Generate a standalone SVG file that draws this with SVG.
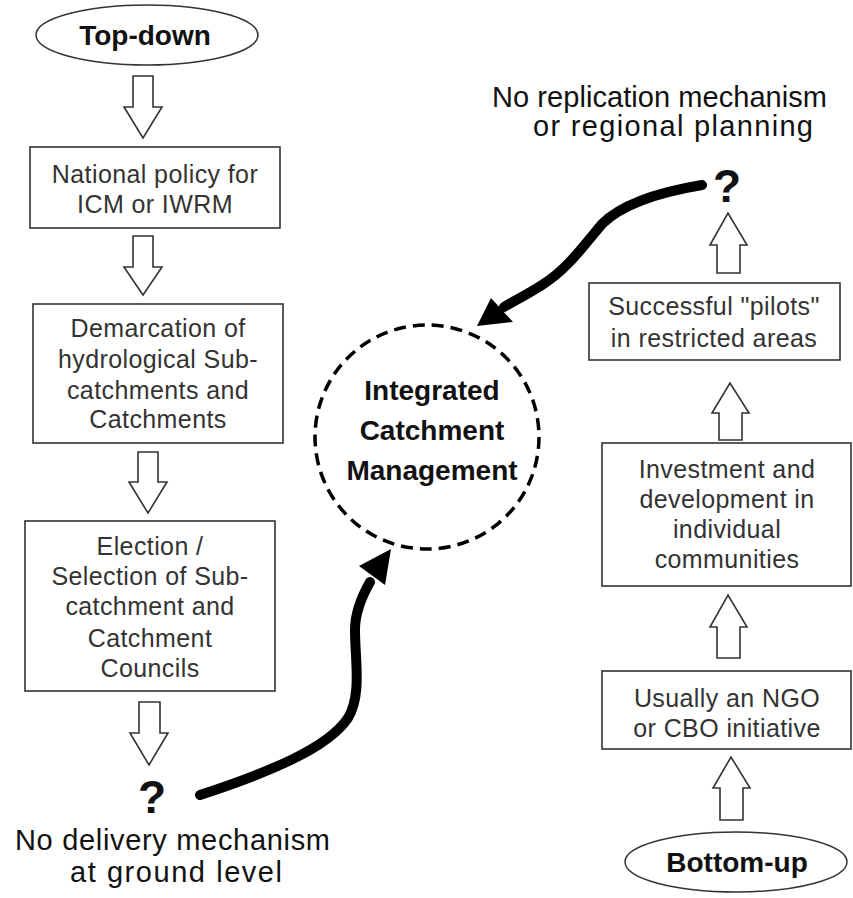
<svg xmlns="http://www.w3.org/2000/svg" width="853" height="898" viewBox="0 0 853 898">
  <style>
    .box { fill: #fff; stroke: #333; stroke-width: 1.6; }
    .oval { fill: #fff; stroke: #333; stroke-width: 1.5; }
    .btxt { font-family: "Liberation Sans", Arial, sans-serif; font-size: 25px; letter-spacing: 0.4px; fill: #333; text-anchor: middle; }
    .title { font-family: "Liberation Sans", Arial, sans-serif; font-size: 28px; font-weight: bold; fill: #111; text-anchor: middle; }
    .note { font-family: "Liberation Sans", Arial, sans-serif; font-size: 29px; fill: #111; }
    .q { font-family: "Liberation Sans", Arial, sans-serif; font-size: 46px; font-weight: bold; fill: #111; text-anchor: middle; }
    .hollow { fill: #fff; stroke: #333; stroke-width: 1.6; stroke-linejoin: miter; }
    .flow { fill: none; stroke: #000; stroke-width: 10; stroke-linecap: round; }
    .head { fill: #000; }
  </style>
  <rect width="853" height="898" fill="#fff"/>

  <!-- Top-down chain -->
  <g id="top-down">
    <ellipse class="oval" cx="147" cy="35" rx="111" ry="30"/>
    <text class="title" x="145" y="45">Top-down</text>
  </g>
  <g id="national-policy">
    <rect class="box" x="30" y="147" width="250" height="81"/>
    <text class="btxt" x="155" y="183">National policy for</text>
    <text class="btxt" x="155" y="213">ICM or IWRM</text>
  </g>
  <g id="demarcation">
    <rect class="box" x="33" y="304" width="250" height="139"/>
    <text class="btxt" x="158" y="337">Demarcation of</text>
    <text class="btxt" x="158" y="368">hydrological Sub-</text>
    <text class="btxt" x="158" y="399">catchments and</text>
    <text class="btxt" x="158" y="428">Catchments</text>
  </g>
  <g id="election">
    <rect class="box" x="25" y="521" width="250" height="170"/>
    <text class="btxt" x="150" y="555">Election /</text>
    <text class="btxt" x="150" y="585">Selection of Sub-</text>
    <text class="btxt" x="150" y="615">catchment and</text>
    <text class="btxt" x="150" y="647">Catchment</text>
    <text class="btxt" x="150" y="677">Councils</text>
  </g>
  <g id="no-delivery">
    <text class="q" x="152" y="813">?</text>
    <text class="note" x="15" y="850" textLength="315" lengthAdjust="spacing">No delivery mechanism</text>
    <text class="note" x="70" y="882" textLength="212" lengthAdjust="spacing">at ground level</text>
  </g>

  <!-- Centre -->
  <g id="icm">
    <circle cx="427" cy="437" r="112" fill="none" stroke="#000" stroke-width="3.5" stroke-dasharray="12 7"/>
    <text class="title" x="432" y="400" font-size="29">Integrated</text>
    <text class="title" x="432" y="440" font-size="29">Catchment</text>
    <text class="title" x="432" y="480" font-size="29">Management</text>
  </g>

  <!-- Bottom-up chain -->
  <g id="no-replication">
    <text class="note" x="492" y="107" textLength="335" lengthAdjust="spacing">No replication mechanism</text>
    <text class="note" x="533" y="136" textLength="280" lengthAdjust="spacing">or regional  planning</text>
    <text class="q" x="727" y="202">?</text>
  </g>
  <g id="pilots">
    <rect class="box" x="589" y="283" width="251" height="77"/>
    <text class="btxt" x="714" y="315">Successful "pilots"</text>
    <text class="btxt" x="714" y="347">in restricted areas</text>
  </g>
  <g id="investment">
    <rect class="box" x="602" y="443" width="249" height="143"/>
    <text class="btxt" x="727" y="478">Investment and</text>
    <text class="btxt" x="727" y="508">development in</text>
    <text class="btxt" x="727" y="538">individual</text>
    <text class="btxt" x="727" y="568">communities</text>
  </g>
  <g id="ngo">
    <rect class="box" x="602" y="671" width="249" height="78"/>
    <text class="btxt" x="727" y="707">Usually an NGO</text>
    <text class="btxt" x="727" y="737">or CBO initiative</text>
  </g>
  <g id="bottom-up">
    <ellipse class="oval" cx="736" cy="862" rx="111" ry="30"/>
    <text class="title" x="737" y="872">Bottom-up</text>
  </g>

  <!-- Connectors -->
  <g id="connectors">
    <!-- hollow block arrows, downward on the left -->
    <polygon class="hollow" points="133,76 153,76 153,107 162,107 143,138 124,107 133,107"/>
    <polygon class="hollow" points="133,236 153,236 153,267 162,267 143,295 124,267 133,267"/>
    <polygon class="hollow" points="138,452 158,452 158,482 167,482 148,513 129,482 138,482"/>
    <polygon class="hollow" points="139,702 160,702 160,733 168,733 149,765 130,733 139,733"/>
    <!-- hollow block arrows, upward on the right -->
    <polygon class="hollow" points="717,273 740,273 740,245 747,245 728,213 710,245 717,245"/>
    <polygon class="hollow" points="719,440 742,440 742,413 749,413 730,383 712,413 719,413"/>
    <polygon class="hollow" points="717,658 740,658 740,627 747,627 728,595 710,627 717,627"/>
    <polygon class="hollow" points="720,820 743,820 743,788 750,788 731,757 713,788 720,788"/>
    <!-- heavy curved arrows into the centre -->
    <path class="flow" d="M200,795 C270,772 328,748 348,718 C362,695 355,660 355,630 C355,612 362,596 370,582"/>
    <polygon class="head" points="391,549 359,566 385,585"/>
    <path class="flow" d="M702,185 C660,192 622,204 602,224 C582,248 566,270 542,285 C528,294 516,300 504,307"/>
    <polygon class="head" points="477,326 491,298 513,322"/>
  </g>
</svg>
